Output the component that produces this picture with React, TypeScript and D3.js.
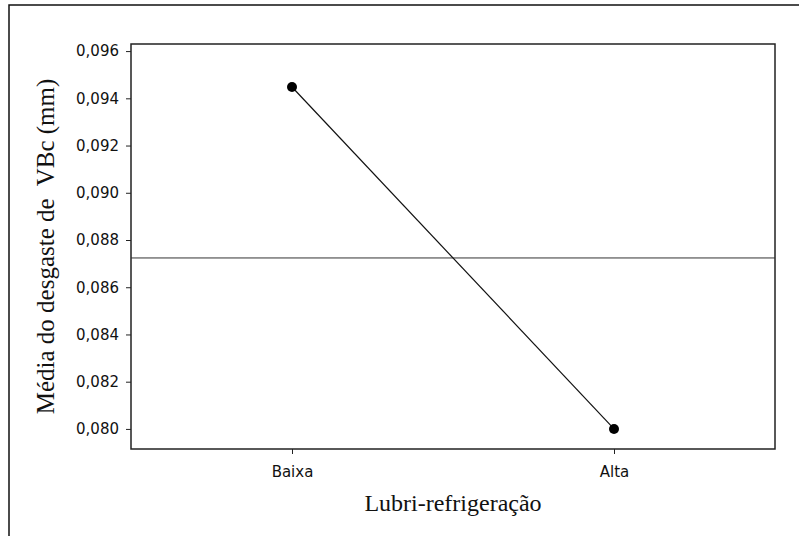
import React, { useEffect, useRef } from "react";
import * as d3 from "d3";

const levels = ["Baixa", "Alta"];
const means = [0.09448, 0.08];
const grandMean = 0.08724;
const yTicks = [0.08, 0.082, 0.084, 0.086, 0.088, 0.09, 0.092, 0.094, 0.096];
const xTitle = "Lubri-refrigeração";
const yTitle = "Média do desgaste de  VBc (mm)";

export default function App() {
	const svgRef = useRef<SVGSVGElement>(null);

	useEffect(() => {
		if (!svgRef.current) return;
		const width = 799;
		const height = 536;
		const margin = { top: 44, right: 24, bottom: 87, left: 131 };
		const graphWidth = width - margin.left - margin.right;
		const graphHeight = height - margin.top - margin.bottom;

		const svg = d3.select(svgRef.current);
		svg.selectAll("*").remove();

		// outer frame (runs off right and bottom)
		svg
			.append("rect")
			.attr("x", 9)
			.attr("y", 5)
			.attr("width", 820)
			.attr("height", 560)
			.attr("fill", "none")
			.attr("stroke", "#111")
			.attr("stroke-width", 1.5);

		const graph = svg
			.append("g")
			.attr("transform", `translate(${margin.left},${margin.top})`);

		const x = d3.scalePoint().domain(levels).range([0, graphWidth]).padding(0.5);
		const y = d3.scaleLinear().domain([0.07915, 0.0963]).range([graphHeight, 0]);

		graph
			.append("rect")
			.attr("width", graphWidth)
			.attr("height", graphHeight)
			.attr("fill", "white")
			.attr("stroke", "#222")
			.attr("stroke-width", 1.5);

		const yAxis = d3
			.axisLeft(y)
			.tickValues(yTicks)
			.tickSize(5)
			.tickPadding(7)
			.tickFormat((d) => d3.format(".3f")(d as number).replace(".", ","));
		const yAxisGroup = graph.append("g").call(yAxis);

		const xAxis = d3.axisBottom(x).tickSize(5).tickPadding(12);
		const xAxisGroup = graph
			.append("g")
			.attr("transform", `translate(0,${graphHeight})`)
			.call(xAxis);

		[yAxisGroup, xAxisGroup].forEach((g) => {
			g.select(".domain").remove();
			g.selectAll("line").attr("stroke", "#222");
			g.selectAll("text")
				.attr("fill", "#111")
				.style("font-family", "'DejaVu Sans', sans-serif")
				.style("font-size", "15px");
		});

		// grand mean reference line
		graph
			.append("line")
			.attr("x1", 0)
			.attr("x2", graphWidth)
			.attr("y1", y(grandMean))
			.attr("y2", y(grandMean))
			.attr("stroke", "#333")
			.attr("stroke-width", 1);

		const pts = levels.map((l, i) => ({ level: l, value: means[i] }));

		const line = d3
			.line<{ level: string; value: number }>()
			.x((d) => x(d.level) as number)
			.y((d) => y(d.value));

		graph
			.append("path")
			.datum(pts)
			.attr("fill", "none")
			.attr("stroke", "#111")
			.attr("stroke-width", 1.2)
			.attr("d", line);

		graph
			.selectAll("circle")
			.data(pts)
			.enter()
			.append("circle")
			.attr("cx", (d) => x(d.level) as number)
			.attr("cy", (d) => y(d.value))
			.attr("r", 5)
			.attr("fill", "#000");

		svg
			.append("text")
			.attr("x", margin.left + graphWidth / 2)
			.attr("y", 511)
			.attr("text-anchor", "middle")
			.style("font-family", "'Liberation Serif', 'Times New Roman', serif")
			.style("font-size", "24px")
			.attr("fill", "#111")
			.text(xTitle);

		svg
			.append("text")
			.attr("transform", `translate(54,${margin.top + graphHeight / 2}) rotate(-90)`)
			.attr("text-anchor", "middle")
			.style("font-family", "'Liberation Serif', 'Times New Roman', serif")
			.style("font-size", "25px")
			.style("white-space", "pre")
			.attr("fill", "#111")
			.text(yTitle);
	}, []);

	return (
		<svg
			ref={svgRef}
			width={799}
			height={536}
			style={{ position: "absolute", left: 0, top: 0, background: "white" }}
		></svg>
	);
}
